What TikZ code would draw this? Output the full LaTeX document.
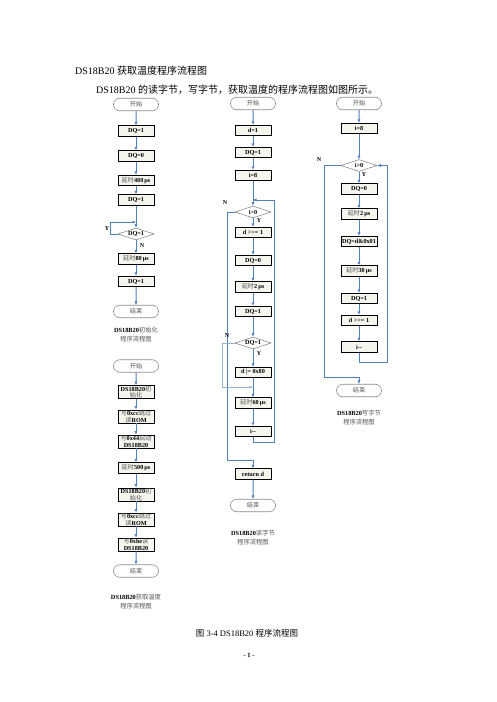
\documentclass[tikz,border=0pt]{standalone}
\usepackage{fontspec}
\setmainfont{Liberation Serif}
\newfontfamily\cjk{Noto Sans CJK SC}
\usetikzlibrary{shapes.geometric,shapes.misc,arrows.meta}
\definecolor{arrowblue}{RGB}{79,129,189}
\definecolor{boxfill}{RGB}{245,245,238}
\definecolor{termgray}{RGB}{140,140,140}
\definecolor{zhgray}{RGB}{85,85,85}
\newcommand\zh[1]{{\cjk\mdseries\color{zhgray}#1}}
\newcommand\zhb[1]{{\cjk\mdseries #1}}
\tikzset{
  procbox/.style={rectangle, draw=black, line width=0.7pt, fill=boxfill,
    minimum width=36pt, minimum height=10.5pt, inner sep=0.4pt, align=center,
    font=\fontsize{6.2}{6.6}\selectfont\bfseries},
  procbox2/.style={procbox, minimum height=13pt},
  termbox/.style={rounded rectangle, draw=termgray, line width=0.6pt, fill=white,
    minimum width=46pt, minimum height=12.5pt, inner sep=0.5pt,
    font=\fontsize{6.2}{7}\selectfont},
  decbox/.style={diamond, aspect=3.2, draw=termgray, line width=0.6pt, fill=white,
    minimum width=36pt, minimum height=12pt, inner sep=0pt,
    font=\fontsize{6.2}{7}\selectfont\bfseries},
  arr/.style={draw=arrowblue, line width=1pt, -{Latex[length=3.5pt,width=3.2pt]}},
  thinarr/.style={draw=arrowblue!60, line width=0.6pt, -{Latex[length=3.5pt,width=3.2pt]}},
  captext/.style={align=center, font=\fontsize{6.3}{9}\selectfont},
  yn/.style={font=\fontsize{6}{6}\selectfont\bfseries, inner sep=0.5pt},
  bodytext/.style={anchor=west, inner sep=0pt, font=\fontsize{10}{12}\selectfont}
}
\begin{document}
\begin{tikzpicture}[x=1pt,y=-1pt]
\fill[white] (0,0) rectangle (496,702);
\useasboundingbox (0,0) rectangle (496,702);

% page texts
\node[bodytext] (title) at (75,71) {DS18B20 \zhb{获取温度程序流程图}};
\node[bodytext] (intro) at (96,90) {DS18B20 \zhb{的读字节，写字节，获取温度的程序流程图如图所示。}};
\node[inner sep=0pt, font=\fontsize{8.5}{10}\selectfont] (figcap) at (247,633) {\zhb{图} 3-4 DS18B20 \zhb{程序流程图}};
\node[inner sep=0pt, font=\fontsize{6.5}{8}\selectfont\bfseries] (pageno) at (249,655) {- 1 -};

% ===== Column 1, chart 1: initialisation =====
\node[termbox] (s1) at (136,104.5) {\zh{开始}};
\node[procbox] (a1) at (136,131) {DQ=1};
\node[procbox] (a2) at (136,156) {DQ=0};
\node[procbox] (a3) at (136,180.5) {\zh{延时}480\,μs};
\node[procbox] (a4) at (136,200) {DQ=1};
\node[decbox] (ad) at (136,234) {DQ=1};
\node[procbox] (a5) at (136,259) {\zh{延时}80\,μs};
\node[procbox] (a6) at (136,281.5) {DQ=1};
\node[termbox] (e1) at (136,311.5) {\zh{结束}};
\node[captext] (c1cap) at (136,335) {\textbf{DS18B20}\zh{初始化}\\\zh{程序流程图}};
\coordinate (ay1) at (110,234);
\coordinate (ay2) at (110,222);
\coordinate (ay3) at (136,222);
\draw[arr] (s1) -- (a1);
\draw[arr] (a1) -- (a2);
\draw[arr] (a2) -- (a3);
\draw[arr] (a3) -- (a4);
\draw[arr] (a4) -- (ad);
\draw[arr] (ad) -- (a5);
\draw[arr] (a5) -- (a6);
\draw[arr] (a6) -- (e1);
\draw[arr] (ad.west) -- (ay1) -- (ay2) -- (ay3);
\node[yn] (ylab1) at (107,229) {Y};
\node[yn] (nlab1) at (142,246) {N};

% ===== Column 1, chart 2: read temperature =====
\node[termbox] (s2) at (136,366) {\zh{开始}};
\node[procbox2] (b1) at (136,392) {DS18B20\zh{初}\\\zh{始化}};
\node[procbox2] (b2) at (136,416.5) {\zh{写}0xcc\zh{跳过}\\\zh{读}ROM};
\node[procbox2] (b3) at (136,441.5) {\zh{写}0x44\zh{启动}\\DS18B20};
\node[procbox] (b4) at (136,468) {\zh{延时}500\,μs};
\node[procbox2] (b5) at (136,494.5) {DS18B20\zh{初}\\\zh{始化}};
\node[procbox2] (b6) at (136,519.5) {\zh{写}0xcc\zh{跳过}\\\zh{读}ROM};
\node[procbox2] (b7) at (136,544.5) {\zh{写}0xbe\zh{读}\\DS18B20};
\node[termbox] (e2) at (136,571) {\zh{结束}};
\node[captext] (c2cap) at (136,601.5) {\textbf{DS18B20}\zh{获取温度}\\\zh{程序流程图}};
\draw[arr] (s2) -- (b1);
\draw[arr] (b1) -- (b2);
\draw[arr] (b2) -- (b3);
\draw[arr] (b3) -- (b4);
\draw[arr] (b4) -- (b5);
\draw[arr] (b5) -- (b6);
\draw[arr] (b6) -- (b7);
\draw[arr] (b7) -- (e2);

% ===== Column 2: read byte =====
\node[termbox] (s3) at (253,103.5) {\zh{开始}};
\node[procbox] (k1) at (253,130.5) {d=1};
\node[procbox] (k2) at (253,152.5) {DQ=1};
\node[procbox] (k3) at (253,175.5) {i=8};
\node[decbox] (kd1) at (253,212) {i{>}0};
\node[procbox] (k4) at (253,232.5) {d {>}{>}= 1};
\node[procbox] (k5) at (253,260.5) {DQ=0};
\node[procbox] (k6) at (253,287) {\zh{延时}2\,μs};
\node[procbox] (k7) at (253,311.5) {DQ=1};
\node[decbox] (kd2) at (253,343) {DQ=1};
\node[procbox] (k8) at (253,372.5) {d |= 0x80};
\node[procbox] (k9) at (253,403) {\zh{延时}60\,μs};
\node[procbox] (k10) at (253,431.5) {i{-}{-}};
\node[procbox] (k11) at (253,474) {return d};
\node[termbox] (e3) at (253,505.5) {\zh{结束}};
\node[captext] (c3cap) at (253,538) {\textbf{DS18B20}\zh{读字节}\\\zh{程序流程图}};
\coordinate (kt) at (253,200);
\coordinate (kl1) at (253,442);
\coordinate (kl2) at (274,442);
\coordinate (kl3) at (274,200);
\coordinate (kn1) at (227,212);
\coordinate (kn2) at (227,460);
\coordinate (kn3) at (253,460);
\coordinate (km1) at (222,343);
\coordinate (km2) at (222,387);
\coordinate (km3) at (253,387);
\draw[arr] (s3) -- (k1);
\draw[arr] (k1) -- (k2);
\draw[arr] (k2) -- (k3);
\draw[arr] (k3) -- (kd1);
\draw[arr] (kd1) -- (k4);
\draw[arr] (k4) -- (k5);
\draw[arr] (k5) -- (k6);
\draw[arr] (k6) -- (k7);
\draw[arr] (k7) -- (kd2);
\draw[arr] (kd2) -- (k8);
\draw[arr] (k8) -- (k9);
\draw[arr] (k9) -- (k10);
\draw[arr] (k11) -- (e3);
\draw[arr] (k10.south) -- (kl1) -- (kl2) -- (kl3) -- (kt);
\draw[arr] (kd1.west) -- (kn1) -- (kn2) -- (kn3) -- (k11.north);
\draw[thinarr] (kd2.west) -- (km1) -- (km2) -- (km3);
\node[yn] (nlab2) at (225,203) {N};
\node[yn] (ylab2) at (259,221) {Y};
\node[yn] (nlab3) at (227,336) {N};
\node[yn] (ylab3) at (259,354) {Y};

% ===== Column 3: write byte =====
\node[termbox] (s4) at (359,103.5) {\zh{开始}};
\node[procbox] (w1) at (359,128.5) {i=8};
\node[decbox] (wd) at (359,165.5) {i{>}0};
\node[procbox] (w2) at (359,189) {DQ=0};
\node[procbox] (w3) at (359,214) {\zh{延时}2\,μs};
\node[procbox] (w4) at (359,241.5) {DQ=d\&0x01};
\node[procbox] (w5) at (359,271) {\zh{延时}30\,μs};
\node[procbox] (w6) at (359,298.5) {DQ=1};
\node[procbox] (w7) at (359,320.5) {d {>}{>}= 1};
\node[procbox] (w8) at (359,347) {i{-}{-}};
\node[termbox] (e4) at (359,390.5) {\zh{结束}};
\node[captext] (c4cap) at (359,418) {\textbf{DS18B20}\zh{写字节}\\\zh{程序流程图}};
\coordinate (wl1) at (359,362);
\coordinate (wl2) at (387,362);
\coordinate (wl3) at (387,165.5);
\coordinate (wn1) at (324,165.5);
\coordinate (wn2) at (324,377);
\coordinate (wn3) at (359,377);
\draw[arr] (s4) -- (w1);
\draw[arr] (w1) -- (wd);
\draw[arr] (wd) -- (w2);
\draw[arr] (w2) -- (w3);
\draw[arr] (w3) -- (w4);
\draw[arr] (w4) -- (w5);
\draw[arr] (w5) -- (w6);
\draw[arr] (w6) -- (w7);
\draw[arr] (w7) -- (w8);
\draw[arr] (w8.south) -- (wl1) -- (wl2) -- (wl3) -- (wd.east);
\draw[arr] (wd.west) -- (wn1) -- (wn2) -- (wn3) -- (e4.north);
\node[yn] (nlab4) at (319,160) {N};
\node[yn] (ylab4) at (364,175) {Y};
\end{tikzpicture}
\end{document}
